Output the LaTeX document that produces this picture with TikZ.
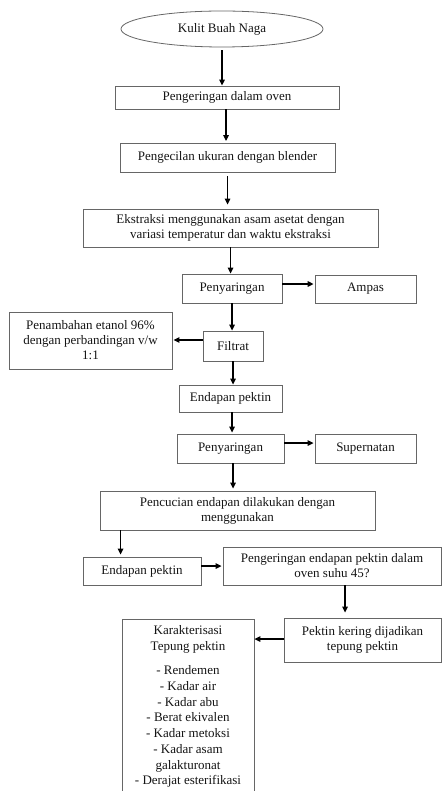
\documentclass[tikz,border=0pt]{standalone}
\usepackage{fontspec}
\setmainfont{Liberation Serif}
\usetikzlibrary{shapes.geometric,arrows.meta,calc}
\begin{document}
\begin{tikzpicture}[x=1pt,y=-1pt,
  box/.style={draw=black!60, line width=0.8pt, align=center, inner sep=0pt,
    font=\fontsize{13}{15}\selectfont, text=black!92},
  arr/.style={line width=1.3pt, -{Triangle[length=6pt,width=5.5pt]}}]
\useasboundingbox (0,0) rectangle (442,791);
\clip (0,0) rectangle (442,791);
\node[box, ellipse, minimum width=202pt, minimum height=36pt] (ell) at (222,29) {Kulit Buah Naga};
\node[box, minimum width=224pt, minimum height=23pt] (b1) at (227,97.5) {Pengeringan dalam oven};
\node[box, minimum width=215pt, minimum height=29pt] (b2) at (227.5,157.5) {Pengecilan ukuran dengan blender};
\node[box, minimum width=295pt, minimum height=38pt] (b3) at (230.5,228) {Ekstraksi menggunakan asam asetat dengan\\variasi temperatur dan waktu ekstraksi};
\node[box, minimum width=100pt, minimum height=29pt] (p1) at (232,288.5) {Penyaringan};
\node[box, minimum width=101pt, minimum height=28pt] (amp) at (365.5,289) {Ampas};
\node[box, minimum width=60pt, minimum height=30pt] (fil) at (233,346) {Filtrat};
\node[box, minimum width=163pt, minimum height=57pt] (pen) at (90.5,340.5) {Penambahan etanol 96\%\\dengan perbandingan v/w\\1:1};
\node[box, minimum width=103pt, minimum height=27pt] (ep1) at (230.5,398.5) {Endapan pektin};
\node[box, minimum width=107pt, minimum height=29pt] (p2) at (230.5,448.5) {Penyaringan};
\node[box, minimum width=101pt, minimum height=29pt] (sup) at (365.5,448.5) {Supernatan};
\node[box, minimum width=275pt, minimum height=39pt] (cuc) at (237.5,510.5) {Pencucian endapan dilakukan dengan\\menggunakan};
\node[box, minimum width=118pt, minimum height=28pt] (ep2) at (142,571) {Endapan pektin};
\node[box, minimum width=218pt, minimum height=38pt] (ker) at (332,566) {Pengeringan endapan pektin dalam\\oven suhu 45?};
\node[box, minimum width=157pt, minimum height=44pt] (pk) at (362.5,640) {Pektin kering dijadikan\\tepung pektin};
\node[box, minimum width=132pt, minimum height=190pt, anchor=north] (kar) at (188,619) {};
\node[box, draw=none, anchor=north, font=\fontsize{13}{15.7}\selectfont] (kart) at ($(kar.north)+(0,6.5)$) {Karakterisasi\\Tepung pektin\\[8.5pt]- Rendemen\\- Kadar air\\- Kadar abu\\- Berat ekivalen\\- Kadar metoksi\\- Kadar asam\\galakturonat\\- Derajat esterifikasi};

\draw[arr, shorten <=3pt] (ell.south) -- (ell.south |- b1.north);
\draw[arr, shorten >=1.5pt] ([xshift=-1pt]b1.south) -- ([xshift=-1pt]b1.south |- b2.north);
\draw[arr, shorten <=4pt, shorten >=4pt] (b2.south) -- (b2.south |- b3.north);
\draw[arr] (b3.south) -- (b3.south |- p1.north);
\draw[arr, shorten >=1pt] ([yshift=4.5pt]p1.east) -- ([yshift=4.5pt]p1.east -| amp.west);
\draw[arr] (p1.south) -- (p1.south |- fil.north);
\draw[arr, shorten >=1pt] ([yshift=6pt]fil.west) -- ([yshift=6pt]fil.west -| pen.east);
\draw[arr] (fil.south) -- (fil.south |- ep1.north);
\draw[arr, shorten >=1pt] ([xshift=1.5pt]ep1.south) -- ([xshift=1.5pt]ep1.south |- p2.north);
\draw[arr, shorten >=1pt] ([yshift=5.5pt]p2.east) -- ([yshift=5.5pt]p2.east -| sup.west);
\draw[arr, shorten >=2pt] ([xshift=2.5pt]p2.south) -- ([xshift=2.5pt]p2.south |- cuc.north);
\coordinate (c1) at ($(cuc.south west)+(21,0)$);
\draw[arr, shorten >=2pt] (c1) -- (c1 |- ep2.north);
\draw[arr, shorten >=1pt] ([yshift=5pt]ep2.east) -- ([yshift=5pt]ep2.east -| ker.west);
\coordinate (c2) at ($(ker.south)+(13,0)$);
\draw[arr, shorten >=5pt] (c2) -- (c2 |- pk.north);
\draw[arr] ([yshift=1pt]pk.west) -- ([yshift=1pt]pk.west -| kar.east);
\end{tikzpicture}
\end{document}
